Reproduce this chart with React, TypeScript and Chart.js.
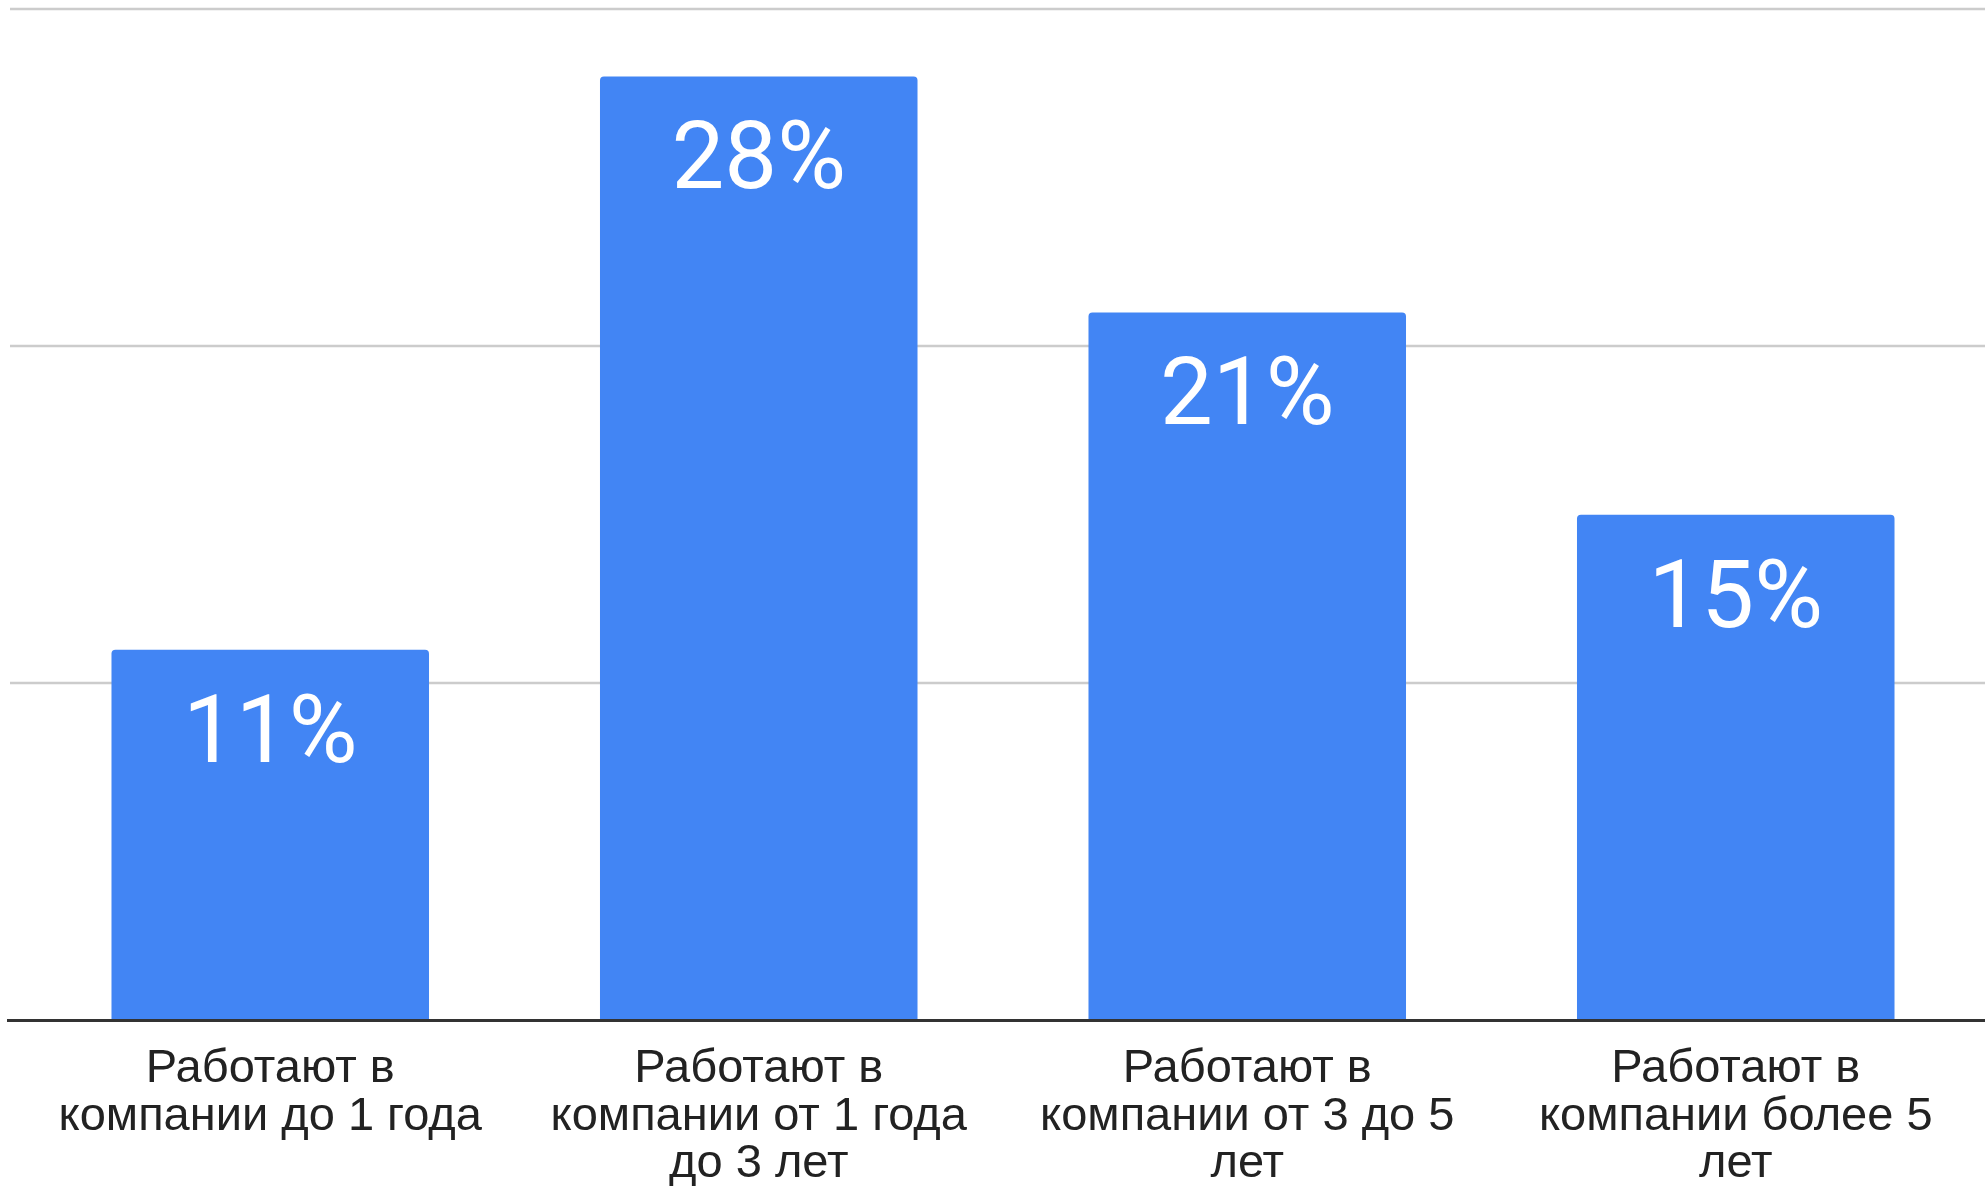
import React, { useEffect, useRef } from "react";
import { Chart, registerables } from "chart.js";

Chart.register(...registerables);

const categories: string[][] = [
  ["Работают в", "компании до 1 года"],
  ["Работают в", "компании от 1 года", "до 3 лет"],
  ["Работают в", "компании от 3 до 5", "лет"],
  ["Работают в", "компании более 5", "лет"],
];
const values: number[] = [11, 28, 21, 15];
const gridValues: number[] = [10, 20, 30];

const BAR_COLOR = "#4285F4";

const customDraw = {
  id: "customDraw",
  beforeDatasetsDraw(chart: any) {
    const { ctx, scales, width } = chart;
    const y = scales.y;
    ctx.save();
    ctx.strokeStyle = "#cccccc";
    ctx.lineWidth = 2.5;
    gridValues.forEach((v) => {
      const py = Math.round(y.getPixelForValue(v));
      ctx.beginPath();
      ctx.moveTo(10, py);
      ctx.lineTo(width, py);
      ctx.stroke();
    });
    ctx.restore();
  },
  afterDatasetsDraw(chart: any) {
    const { ctx, scales, width } = chart;
    const y = scales.y;
    ctx.save();
    const base = y.getPixelForValue(0);
    ctx.strokeStyle = "#333333";
    ctx.lineWidth = 3;
    ctx.beginPath();
    ctx.moveTo(7, base);
    ctx.lineTo(width, base);
    ctx.stroke();

    const meta = chart.getDatasetMeta(0);
    ctx.fillStyle = "#ffffff";
    ctx.font = "94px Roboto";
    ctx.textAlign = "center";
    ctx.textBaseline = "alphabetic";
    meta.data.forEach((bar: any, i: number) => {
      ctx.fillText(`${values[i]}%`, bar.x, bar.y + 112);
    });
    ctx.restore();
  },
};

export default function App() {
  const canvasRef = useRef<HTMLCanvasElement | null>(null);

  useEffect(() => {
    if (!canvasRef.current) return;
    const chart = new Chart(canvasRef.current, {
      type: "bar",
      data: {
        labels: categories,
        datasets: [
          {
            data: values,
            backgroundColor: BAR_COLOR,
            borderRadius: { topLeft: 4, topRight: 4, bottomLeft: 0, bottomRight: 0 },
            borderSkipped: false,
            categoryPercentage: 1,
            barPercentage: 0.65,
          },
        ],
      },
      options: {
        animation: false,
        responsive: true,
        maintainAspectRatio: false,
        devicePixelRatio: 1,
        layout: { padding: { top: 9, left: 26, right: 5, bottom: -27 } },
        plugins: {
          legend: { display: false },
          tooltip: { enabled: false },
          title: { display: false },
        },
        scales: {
          x: {
            grid: { display: false, drawTicks: false, tickLength: 0 },
            border: { display: false },
            ticks: {
              padding: 25,
              color: "#222222",
              maxRotation: 0,
              autoSkip: false,
              font: { family: "'Liberation Sans', Arial, sans-serif", size: 47, lineHeight: 1.01 },
            },
          },
          y: {
            display: false,
            min: 0,
            max: 30,
          },
        },
      },
      plugins: [customDraw],
    });
    return () => chart.destroy();
  }, []);

  return (
    <div style={{ position: "fixed", left: 0, top: 0, width: 1985, height: 1186, background: "#ffffff" }}>
      <canvas ref={canvasRef} />
    </div>
  );
}
